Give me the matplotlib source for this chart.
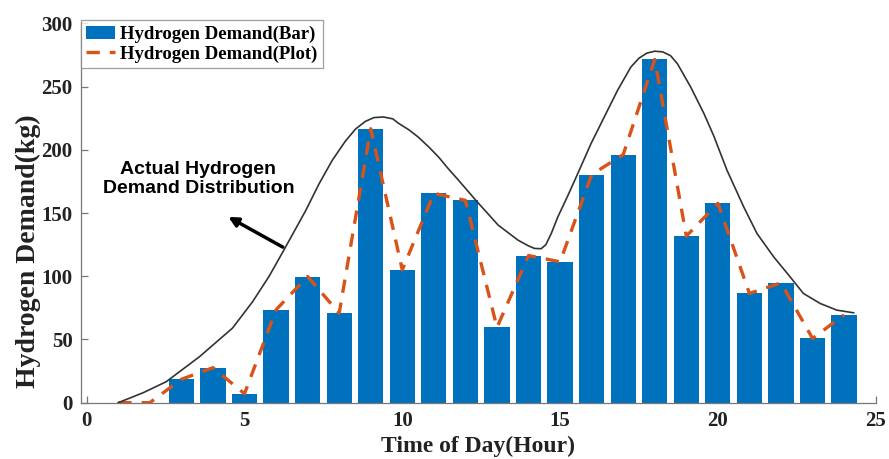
import matplotlib
matplotlib.use("Agg")
import matplotlib.pyplot as plt

hours = list(range(1, 25))
demand = [0, 0, 18.5, 27.7, 7.1, 73.5, 99.8, 70.8, 216.7, 105, 165.6, 160,
          59.5, 116.4, 111.4, 180.4, 196.2, 271.5, 131.7, 157.7, 86.4, 94.8, 50.8, 69.5]

# "Actual Hydrogen Demand Distribution" curve
env_x = [1.0, 1.8, 2.52, 3.57, 4.62, 5.26, 5.78, 6.2, 6.52, 6.94, 7.36, 7.78, 8.2,
         8.52, 8.83, 9.1, 9.4, 9.7, 9.88, 10.2, 10.51, 10.85, 11.15, 11.46, 11.78,
         12.35, 13.04, 13.67, 14.0, 14.19, 14.4, 14.55, 14.72, 14.93, 15.25, 15.56,
         15.98, 16.4, 16.82, 17.24, 17.5, 17.75, 18.0, 18.25, 18.5, 18.72, 19.14,
         19.56, 19.87, 20.29, 20.82, 21.24, 21.77, 22.29, 22.71, 23.24, 23.77, 24.3]
env_y = [0, 8, 16.6, 36.3, 59, 80, 100, 118.6, 133, 152, 173, 191.7, 207,
         216.5, 222.5, 225.5, 226, 224.5, 221, 216, 210, 202, 194.3, 185, 176,
         159.5, 140.4, 128.5, 124, 122, 121.8, 125, 133.8, 147, 164, 181.2,
         204.9, 226, 247, 265.4, 272.5, 276.5, 278, 277.5, 274.5, 268, 249.6,
         228.6, 211, 183.8, 154.8, 133.8, 115.3, 99.5, 86.4, 78.5, 73.2, 71.1]

xticks = [0, 5, 10, 15, 20, 25]
yticks = [0, 50, 100, 150, 200, 250, 300]

serif = ['Liberation Serif', 'DejaVu Serif']
sans = ['Liberation Sans', 'DejaVu Sans']

fig = plt.figure(figsize=(8.89, 4.59), dpi=100)
ax = fig.add_axes([0.0908, 0.1227, 0.8942, 0.8263])

bars = ax.bar(hours, demand, width=0.8, color='#0072BD', edgecolor='none',
              label='Hydrogen Demand(Bar)', zorder=2)
line, = ax.plot(hours, demand, color='#D95319', lw=2.4, ls=(0, (4, 3)),
                label='Hydrogen Demand(Plot)', zorder=3)
ax.plot(env_x, env_y, color='#333333', lw=1.2, zorder=4, solid_joinstyle='round')

ax.annotate('', xy=(4.41, 148), xytext=(6.29, 122),
            arrowprops=dict(arrowstyle='-|>', color='black', lw=2.5,
                            mutation_scale=14), zorder=5)
ax.text(3.54, 177, 'Actual Hydrogen\nDemand Distribution', ha='center', va='center',
        fontsize=14, fontweight='bold', family=sans, linespacing=1.2, zorder=5)

ax.set_xlim(-0.19, 25)
ax.set_ylim(0, 300)
ax.set_xticks(xticks)
ax.set_yticks(yticks)
for s in ['top', 'right']:
    ax.spines[s].set_visible(False)
for s in ['left', 'bottom']:
    ax.spines[s].set_color('#777777')
    ax.spines[s].set_linewidth(0.9)
ax.tick_params(direction='in', length=5, color='#777777', width=0.9, pad=6)
for lab in ax.get_xticklabels() + ax.get_yticklabels():
    lab.set_fontfamily(serif)
    lab.set_fontweight('bold')
    lab.set_fontsize(15)
    lab.set_color('#222222')

ax.set_xlabel('Time of Day(Hour)', fontsize=17, fontweight='bold', family=serif,
              labelpad=3.5, color='#222222')
ax.set_ylabel('Hydrogen Demand(kg)', fontsize=20, fontweight='bold', family=serif,
              color='#222222', va='center')
ax.yaxis.set_label_coords(-0.066, 0.40)

leg = ax.legend(handles=[bars, line], loc='upper left', bbox_to_anchor=(0.0, 1.008),
                borderaxespad=0, prop=dict(family=serif, weight='bold', size=13.5),
                frameon=True, fancybox=False, handlelength=1.55, handletextpad=0.25,
                borderpad=0.3, labelspacing=0.12)
leg.get_frame().set_edgecolor('#888888')
leg.get_frame().set_linewidth(0.9)

fig.savefig('out.png', dpi=100)
